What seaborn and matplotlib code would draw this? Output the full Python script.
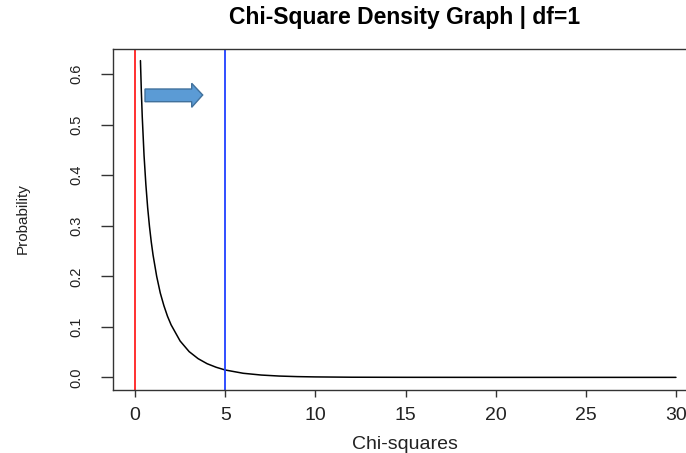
import matplotlib
matplotlib.use("Agg")
import matplotlib.pyplot as plt
from matplotlib.patches import Polygon
import seaborn as sns
import pandas as pd

# Chi-square density curve, df = 1
chi_x = [0.3, 0.35, 0.4, 0.5, 0.6, 0.7, 0.8, 0.9, 1.0, 1.2, 1.4, 1.6, 1.8, 2.0,
         2.5, 3.0, 3.5, 4.0, 4.5, 5.0, 6.0, 7.0, 8.0, 9.0, 10.0, 12.0, 15.0,
         20.0, 25.0, 30.0]
density = [0.627, 0.566, 0.516, 0.439, 0.382, 0.336, 0.299, 0.268, 0.242, 0.200,
           0.167, 0.142, 0.121, 0.104, 0.072, 0.051, 0.037, 0.027, 0.020, 0.0146,
           0.0081, 0.0046, 0.0026, 0.0015, 0.0009, 0.0003, 0.0001, 0.0, 0.0, 0.0]

# reference lines
zero_line = 0
critical_value = 5

x_ticks = [0, 5, 10, 15, 20, 25, 30]
y_ticks = [0.0, 0.1, 0.2, 0.3, 0.4, 0.5, 0.6]
title = "Chi-Square Density Graph | df=1"
x_label = "Chi-squares"
y_label = "Probability"

df = pd.DataFrame({"x": chi_x, "y": density})

sns.set_style("white")
plt.rcParams["font.family"] = ["Liberation Sans", "DejaVu Sans"]

W, H = 686, 453
fig = plt.figure(figsize=(W / 100, H / 100), dpi=100)
ax = fig.add_axes([113.4 / W, 1 - 390 / H, (697.6 - 113.4) / W, (390 - 49) / H])

sns.lineplot(data=df, x="x", y="y", ax=ax, color="black", linewidth=1.1)
ax.axvline(zero_line, color="#ff2020", linewidth=1.3)
ax.axvline(critical_value, color="#2040ff", linewidth=1.3)

ax.set_xlim(-1.2, 31.2)
ax.set_ylim(-0.025, 0.65)
ax.set_xticks(x_ticks)
ax.set_xticklabels([str(t) for t in x_ticks], fontsize=14, color="#222222")
ax.set_yticks(y_ticks)
ax.set_yticklabels([f"{t:.1f}" for t in y_ticks], fontsize=10.5,
                   rotation=90, va="center", color="#222222")
ax.tick_params(axis="x", direction="out", length=5, width=1, color="#333333", pad=7, bottom=True)
ax.tick_params(axis="y", direction="out", length=8.6, width=1, color="#333333", pad=13, left=True)
ax.set_xlabel("")
ax.set_ylabel("")
for s in ax.spines.values():
    s.set_visible(True)
    s.set_color("#333333")
    s.set_linewidth(1.0)

fig.text(404.5 / W, 1 - 24 / H, title, ha="center", va="baseline",
         fontsize=16.5, fontweight="bold", color="black")
fig.text(404.5 / W, 1 - 449 / H, x_label, ha="center", va="baseline",
         fontsize=14, color="#222222")
fig.text(23 / W, 1 - 219 / H, y_label, ha="center", va="center",
         rotation=90, fontsize=11, color="#222222")

# direction arrow pointing right
arrow_px = [(145, 89), (191.7, 89), (191.7, 83.3), (202.7, 95),
            (191.7, 107.3), (191.7, 101.7), (145, 101.7)]
arrow = Polygon([(px / W, 1 - py / H) for px, py in arrow_px], closed=True,
                transform=fig.transFigure, facecolor="#5b9bd5",
                edgecolor="#41719c", linewidth=1.0, zorder=5)
fig.patches.append(arrow)

fig.savefig("out.png", dpi=100)
